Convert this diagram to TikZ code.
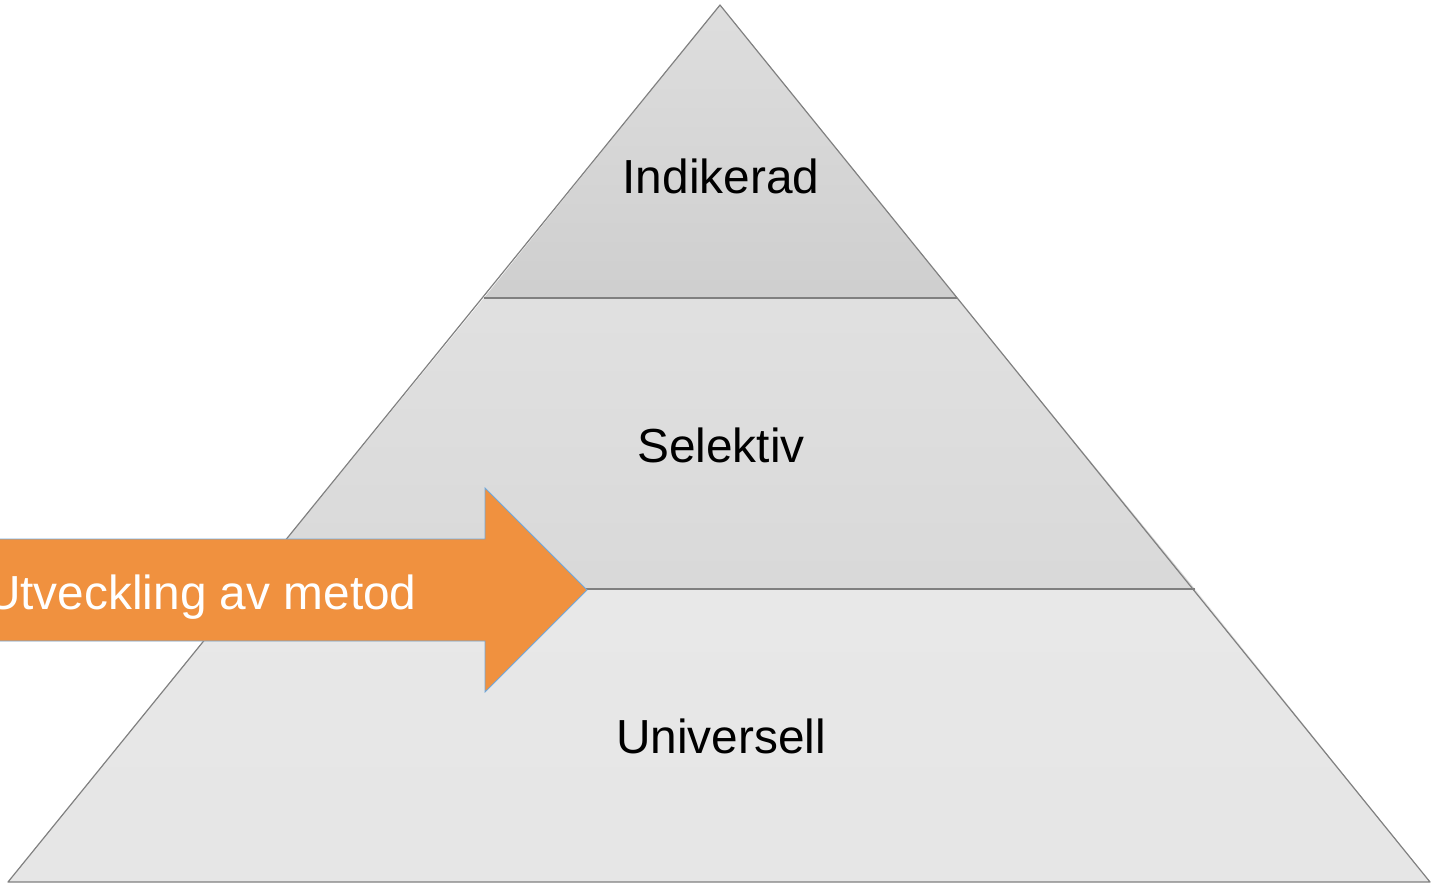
\documentclass[tikz,border=0pt]{standalone}
\usepackage{fontspec}
\setmainfont{Liberation Sans}
\begin{document}
\begin{tikzpicture}[x=1pt,y=-1pt,
  tier/.style={draw=black!50, line width=1.2pt, line join=round},
  lbl/.style={font=\fontsize{47.8}{48}\selectfont, text=black, inner sep=0pt, anchor=base}
]
\definecolor{arrfill}{HTML}{F0913F}
\definecolor{arrline}{HTML}{6FA8DC}
\useasboundingbox (0,0) rectangle (1431,886);
\clip (0,0) rectangle (1431,886);
% pyramid corners
\coordinate (apex) at (720,5);
\coordinate (l1) at (484,298);
\coordinate (r1) at (957,298);
\coordinate (l2) at (246,589);
\coordinate (r2) at (1195,589);
\coordinate (bl) at (8,882);
\coordinate (br) at (1430,882);
% tiers
\shade[top color=black!13, bottom color=black!19] (apex) -- (r1) -- (l1) -- cycle;
\shade[top color=black!12, bottom color=black!15] (l1) -- (r1) -- (r2) -- (l2) -- cycle;
\shade[top color=black!9, bottom color=black!10] (l2) -- (r2) -- (br) -- (bl) -- cycle;
\draw[tier] (apex) -- (br) -- (bl) -- cycle;
\draw[tier] (l1) -- (r1);
\draw[tier] (l2) -- (r2);
% labels
\node[lbl] (ind) at (721,193) {Indikerad};
\node[lbl] (sel) at (721,462) {Selektiv};
\node[lbl] (uni) at (721,753) {Universell};
% arrow
\coordinate (a1) at (-20,539);
\coordinate (a2) at (485,539);
\coordinate (a3) at (485,488);
\coordinate (tip) at (587,590);
\coordinate (a5) at (485,692);
\coordinate (a6) at (485,641);
\coordinate (a7) at (-20,641);
\draw[fill=arrfill, draw=arrline, line width=0.8pt] (a1) -- (a2) -- (a3) -- (tip) -- (a5) -- (a6) -- (a7) -- cycle;
\node[lbl, text=white, anchor=base west] (arr) at (-14,609) {Utveckling av metod};
\end{tikzpicture}
\end{document}
